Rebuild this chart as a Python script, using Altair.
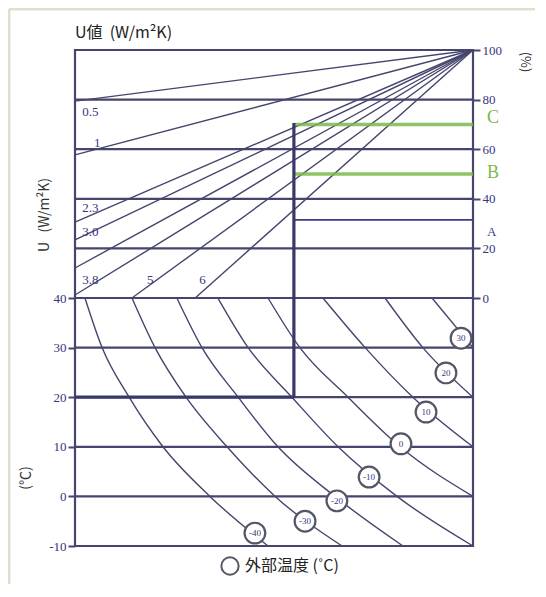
import altair as alt
import pandas as pd

# ---------------- data ----------------
# upper panel: relative humidity (%)
rh_lines = [0, 20, 40, 60, 80]
rh_ticks = [0, 20, 40, 60, 80, 100]
# lower panel: indoor temperature (°C)
indoor_lines = [30, 20, 10, 0]
temp_ticks = [40, 30, 20, 10, 0, -10]

# U-value lines: start on the left / bottom edge (x in % of width), all meet at 100 % top right
u_start_x = [0, 0, 0, 0, 0, 0, 14.3, 30.2]
u_start_rh = [79.4, 57.7, 30.6, 23.4, 12.1, 1.2, 0, 0]
u_label_text = ["0.5", "1", "2.3", "3.0", "3.8", "5", "6"]
u_label_x = [1.8, 4.8, 1.8, 1.8, 1.8, 18.1, 31.2]
u_label_rh = [75, 62.5, 36.3, 26.6, 7.3, 7.3, 7.3]

# outdoor temperature curves: x (% of width) where each curve crosses the indoor temps
curve_indoor = [40, 30, 20, 10, 0, -10]
outdoor_temps = [-40, -30, -20, -10, 0, 10, 20, 30]
curve_x = [
    [2.5, 6.8, 13.6, 22.1, 33.9, 48.5],
    [14.3, 20.1, 27.9, 38.2, 50.3, 67.1],
    [25.6, 31.9, 41.0, 51.0, 65.3, 82.4],
    [35.9, 43.5, 54.5, 66.1, 80.9, 100],
    [48.5, 56.5, 68.6, 81.7, 100],
    [62.3, 72.9, 84.9, 100],
    [77.9, 87.4, 100],
    [89.7, 100],
]
# circled outdoor-temperature markers
marker_text = ["30", "20", "10", "0", "-10", "-20", "-30", "-40"]
marker_x = [97.0, 93.2, 88.2, 81.9, 73.9, 65.8, 57.8, 45.2]
marker_indoor = [31.9, 24.9, 17.0, 10.6, 3.9, -0.9, -5.0, -7.4]

# reading example
guide_x = 55.0
guide_top_rh = 70.6
guide_indoor = 20
zone_names = ["A", "B", "C"]
zone_rh = [31.5, 50.0, 70.0]
zone_label_rh = [26.6, 50.4, 72.5]
zone_colors = ["#3b3b86", "#7cb84a", "#7cb84a"]


def y_rh(v):
    return v


def y_t(t):
    return (t - 40) * 2


NAVY = "#45456e"
TXT = "#35357f"
SERIF = "Liberation Serif"
SANS = "Noto Sans CJK JP"

yscale = alt.Scale(domain=[-100, 100], nice=False, zero=False)
xscale = alt.Scale(domain=[0, 100], nice=False, zero=False)

X = lambda f: alt.X(f, type="quantitative", scale=xscale, axis=None)
Y = lambda f: alt.Y(f, type="quantitative", scale=yscale, axis=None)

# ---- horizontal grid lines ----
grid = pd.DataFrame(
    {"y": [y_rh(v) for v in rh_lines] + [y_t(t) for t in indoor_lines],
     "x0": 0, "x1": 100}
)
grid_layer = alt.Chart(grid).mark_rule(color=NAVY, strokeWidth=2.2).encode(
    x=X("x0"), x2="x1",
    y=alt.Y("y:Q", scale=yscale,
            axis=alt.Axis(orient="left", values=[y_t(t) for t in temp_ticks],
                          labelExpr="datum.value / 2 + 40", tickSize=7, tickWidth=2,
                          tickColor=NAVY, domain=False, grid=False, title=None,
                          labelFont=SERIF, labelFontSize=13, labelColor=TXT,
                          labelPadding=2)),
)
right_axis_layer = alt.Chart(pd.DataFrame({"y": [y_rh(v) for v in rh_ticks], "x0": 100})).mark_point(
    opacity=0).encode(
    x=X("x0"),
    y=alt.Y("y:Q", scale=yscale,
            axis=alt.Axis(orient="right", values=[y_rh(v) for v in rh_ticks], tickSize=7,
                          tickWidth=2, tickColor=NAVY, domain=False, grid=False, title=None,
                          labelFont=SERIF, labelFontSize=13, labelColor=TXT,
                          labelPadding=2)),
)

# ---- U-value lines ----
u_df = pd.DataFrame({"x0": u_start_x, "y0": [y_rh(v) for v in u_start_rh],
                     "x1": 100, "y1": y_rh(100)})
u_layer = alt.Chart(u_df).mark_rule(color=NAVY, strokeWidth=1.4).encode(
    x=X("x0"), y=Y("y0"), x2="x1", y2="y1")
u_text = alt.Chart(pd.DataFrame({"t": u_label_text, "x": u_label_x,
                                 "y": [y_rh(v) for v in u_label_rh]})).mark_text(
    align="left", baseline="middle", font=SERIF, fontSize=13, color=TXT).encode(
    x=X("x"), y=Y("y"), text="t:N")

# ---- outdoor temperature curves ----
rows = []
for t_out, xs in zip(outdoor_temps, curve_x):
    for ti, xv in zip(curve_indoor, xs):
        rows.append({"out": t_out, "x": xv, "y": y_t(ti)})
curve_layer = alt.Chart(pd.DataFrame(rows)).mark_line(
    color=NAVY, strokeWidth=1.4, interpolate="monotone").encode(
    x=X("x"), y=Y("y"), detail="out:N")

mk = pd.DataFrame({"t": marker_text, "x": marker_x, "y": [y_t(v) for v in marker_indoor]})
marker_layer = alt.Chart(mk).mark_point(
    shape="circle", size=430, filled=True, fill="white", stroke="#555566",
    strokeWidth=2.2, opacity=1).encode(x=X("x"), y=Y("y"))
marker_text_layer = alt.Chart(mk).mark_text(
    font=SERIF, fontSize=9, color=TXT, baseline="middle").encode(
    x=X("x"), y=Y("y"), text="t:N")

# ---- reading example lines ----
thick_h = alt.Chart(pd.DataFrame({"x0": [0], "x1": [guide_x], "y": [y_t(guide_indoor)]})).mark_rule(
    color="#38386a", strokeWidth=3.2).encode(x=X("x0"), x2="x1", y=Y("y"))
thick_v = alt.Chart(pd.DataFrame({"x": [guide_x], "y0": [y_rh(guide_top_rh)],
                                  "y1": [y_t(guide_indoor)]})).mark_rule(
    color="#38386a", strokeWidth=3.2).encode(x=X("x"), y=Y("y0"), y2="y1")

zones = pd.DataFrame({"n": zone_names, "y": [y_rh(v) for v in zone_rh],
                      "ly": [y_rh(v) for v in zone_label_rh], "c": zone_colors,
                      "x0": guide_x, "x1": 100})
zone_lines = alt.Chart(zones).mark_rule().encode(
    x=X("x0"), x2="x1", y=Y("y"),
    color=alt.Color("c:N", scale=None),
    strokeWidth=alt.condition("datum.n == 'A'", alt.value(1.6), alt.value(3.5)),
    opacity=alt.condition("datum.n == 'A'", alt.value(1), alt.value(0.85)),
)
zone_text = alt.Chart(zones).mark_text(align="left", baseline="middle", font=SERIF,
                                        dx=14).encode(
    x=X("x1"), y=Y("ly"), text="n:N",
    color=alt.Color("c:N", scale=None),
    size=alt.condition("datum.n == 'A'", alt.value(13), alt.value(18)),
)

# ---- titles and unit labels ----
def label(text, px, py, size=15, angle=0, align="left", font=SANS, color="#222222"):
    kw = dict(text=text, fontSize=size, font=font, color=color, align=align,
              baseline="middle")
    if angle:
        kw["angle"] = angle
    return alt.Chart(pd.DataFrame({"a": [0]})).mark_text(**kw).encode(
        x=alt.value(px), y=alt.value(py))

NB = "\u00a0"
titles = [
    label("U値" + NB * 2 + "(W/m²K)", 0, -17, size=16),
    label("U" + NB * 3 + "(W/m²K)", -30, 165, size=14, angle=270, align="center", color="#333333"),
    label("(℃)", -49, 428, size=14, angle=270, align="center", color="#333333"),
    label("(%)", 450, 12, size=13, angle=90, align="center", color="#333333"),
    label("外部温度" + NB + "(˚C)", 170, 516, size=16),
]
legend_circle = alt.Chart(pd.DataFrame({"a": [0]})).mark_point(
    shape="circle", size=300, filled=True, fill="white", stroke="#555566",
    strokeWidth=2, opacity=1).encode(x=alt.value(155), y=alt.value(516))

frame_left = alt.Chart(pd.DataFrame({"a": [0]})).mark_rule(
    color="#dde2cc", strokeWidth=3).encode(x=alt.value(-66), y=alt.value(-41), y2=alt.value(534))
frame_top = alt.Chart(pd.DataFrame({"a": [0]})).mark_rule(
    color="#dde2cc", strokeWidth=3).encode(y=alt.value(-41), x=alt.value(-66), x2=alt.value(460))

chart = alt.layer(
    frame_left, frame_top,
    grid_layer, right_axis_layer, u_layer, curve_layer, zone_lines,
    thick_h, thick_v, marker_layer, marker_text_layer, u_text, zone_text,
    legend_circle, *titles,
).resolve_axis(y="independent").properties(
    width=398, height=496,
    autosize=alt.AutoSizeParams(type="none"),
    padding={"left": 67, "top": 42, "right": 62, "bottom": 38},
    background="white",
).configure_view(stroke=NAVY, strokeWidth=2.2)

chart.save("out.html", embed_options={"renderer": "svg", "actions": False})
